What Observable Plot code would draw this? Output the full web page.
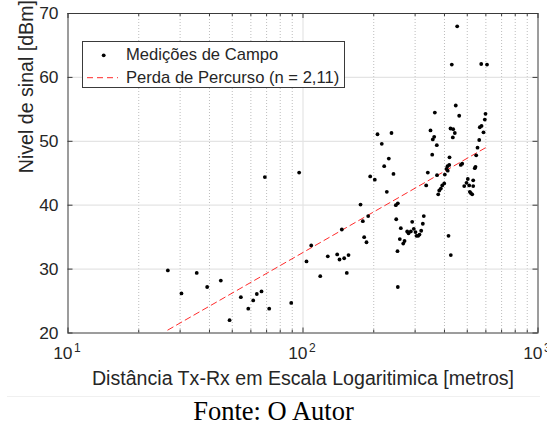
<!DOCTYPE html>
<html>
<head>
<meta charset="utf-8">
<script src="https://cdn.jsdelivr.net/npm/d3@7"></script>
<script src="https://cdn.jsdelivr.net/npm/@observablehq/plot@0.6"></script>
<style>
  body { margin: 0; background: #fff; }
  #wrap { position: relative; width: 547px; height: 426px; font-family: "Liberation Sans", Arial, sans-serif; color: #262626; }
  #legend { position: absolute; left: 82px; top: 41px; width: 261px; height: 45px; border: 1px solid #3a3a3a; background: #fff; box-sizing: content-box; }
  #legend .row { position: absolute; left: 0; height: 22px; line-height: 22px; font-size: 16.6px; white-space: nowrap; }
  #legend .row span { position: absolute; left: 43px; }
  #legend svg { position: absolute; left: 0; top: 0; }
  #caption { position: absolute; left: 7px; right: 7px; top: 396px; height: 30px; line-height: 29px; text-align: center; font-family: "Liberation Serif", "Times New Roman", serif; font-size: 26.5px; color: #000; border-top: 1px solid #f0f0f0; }
</style>
</head>
<body>
<div id="wrap"></div>
<script>
// Field measurements: Tx-Rx distance (m) and received signal level (dBm)
const distance = [
  26.6, 30.4, 35.3, 39.1, 44.7, 48.7, 54.4, 58.5, 61.4, 63.6, 66.6, 71.8, 89.1, 103.5, 68.8, 96.3,
  429.7, 573.3, 606.7, 453.0, 446.8, 363.9, 462.0, 597.9, 593.8, 575.0, 565.4, 586.3, 562.2, 552.9,
  545.8, 542.0, 538.3, 530.0, 530.0, 502.7, 496.3, 485.3, 509.6, 512.6, 517.6, 524.8, 424.3, 435.6,
  442.6, 434.0, 348.8, 356.7, 361.6, 371.0, 354.7, 420.2, 412.1, 408.0, 413.0, 419.0, 469.3, 475.8,
  339.7, 401.3, 371.8, 334.4, 399.0, 391.3, 386.0, 380.0, 376.2, 207.5, 238.0, 216.4, 231.8, 221.6,
  242.7, 193.2, 202.1, 227.3, 175.7, 179.7, 189.4, 182.1, 186.3, 146.3, 108.4, 127.5, 139.8, 143.0,
  149.7, 156.2, 118.4, 153.6, 248.3, 253.2, 249.3, 260.8, 252.4, 258.2, 270.4, 267.0, 253.2, 277.6,
  281.2, 287.6, 291.5, 296.1, 301.1, 304.0, 309.1, 313.1, 318.4, 323.5, 326.6, 416.1, 425.6
];
const level = [
  29.8, 26.2, 29.4, 27.2, 28.2, 22.0, 25.6, 23.8, 25.1, 26.1, 26.5, 23.8, 24.7, 31.2, 44.4, 45.1,
  62.0, 62.1, 62.0, 68.0, 55.6, 54.5, 54.0, 54.3, 53.4, 52.4, 52.2, 51.4, 50.2, 49.0,
  47.8, 46.0, 45.8, 43.9, 43.0, 44.1, 43.5, 43.0, 43.1, 42.1, 41.9, 41.7, 52.0, 51.9,
  51.3, 50.6, 51.7, 50.3, 50.7, 49.4, 47.9, 47.5, 46.1, 45.7, 45.4, 46.3, 46.3, 46.5,
  45.1, 44.8, 44.7, 43.1, 43.4, 43.1, 42.6, 42.3, 41.7, 51.1, 51.3, 49.6, 47.3, 46.1,
  44.9, 44.5, 44.0, 42.1, 40.1, 37.5, 38.3, 35.0, 34.2, 36.2, 33.7, 32.0, 32.3, 31.5,
  31.7, 32.2, 28.9, 29.4, 40.0, 40.3, 37.8, 36.4, 32.8, 34.7, 34.4, 34.0, 27.2, 35.9,
  35.6, 35.9, 37.4, 36.3, 35.8, 35.2, 35.2, 35.4, 36.0, 37.1, 38.3, 35.2, 32.2
];

// Log-distance path loss model: P(d) = P(d0) + 10 n log10(d / d0)
const pathLossN = 2.11;
const refDistance = 100;   // m
const refLevel = 32.6;     // dBm at refDistance

// Axis ticks
const xExponents = [1, 2, 3];
const xMinor = [20, 30, 40, 50, 60, 70, 80, 90, 200, 300, 400, 500, 600, 700, 800, 900];
const yTicks = [20, 30, 40, 50, 60, 70];

const xMajor = xExponents.map(e => 10 ** e);
const points = distance.map((d, i) => ({d, v: level[i]}));
const fitDist = d3.extent(distance);
const fit = fitDist.map(d => ({d, v: refLevel + 10 * pathLossN * Math.log10(d / refDistance)}));

const W = 547, H = 396;
const mL = 67.5, mR = 9.5, mT = 13, mB = 63.5;
const plotW = W - mL - mR, plotH = H - mT - mB;
const axisColor = "#3a3a3a";
const gridColor = "#e4e4e4";
const tickFont = 17.4;
const labelFont = 19.6;

const chart = Plot.plot({
  width: W, height: H,
  marginLeft: mL, marginRight: mR, marginTop: mT, marginBottom: mB,
  style: {fontFamily: "'Liberation Sans', Arial, sans-serif", color: "#262626", background: "#fff", overflow: "visible"},
  x: {type: "log", domain: [10, 1000], axis: null},
  y: {domain: [20, 70], axis: null},
  marks: [
    // grid
    Plot.ruleX(xMinor, {x: d => d, stroke: "#bdbdbd", strokeDasharray: "1,2", strokeWidth: 1}),
    Plot.ruleX([100], {x: d => d, stroke: gridColor, strokeWidth: 1.2}),
    Plot.ruleY(yTicks.slice(1, -1), {y: d => d, stroke: gridColor, strokeWidth: 1.2}),
    // data
    Plot.line(fit, {x: "d", y: "v", stroke: "#ff2b2b", strokeWidth: 1, strokeDasharray: "6,4"}),
    Plot.dot(points, {x: "d", y: "v", r: 1.9, fill: "#000", stroke: "none"}),
    // box and inward ticks
    Plot.frame({stroke: axisColor, strokeWidth: 1}),
    Plot.tickX(xMajor, {x: d => d, insetTop: plotH - 5, stroke: axisColor}),
    Plot.tickX(xMajor, {x: d => d, insetBottom: plotH - 5, stroke: axisColor}),
    Plot.tickX(xMinor, {x: d => d, insetTop: plotH - 3, stroke: axisColor}),
    Plot.tickX(xMinor, {x: d => d, insetBottom: plotH - 3, stroke: axisColor}),
    Plot.tickY(yTicks, {y: d => d, insetRight: plotW - 5, stroke: axisColor}),
    Plot.tickY(yTicks, {y: d => d, insetLeft: plotW - 5, stroke: axisColor}),
    // tick labels
    Plot.text(yTicks, {y: d => d, frameAnchor: "left", text: d => String(d), textAnchor: "end", dx: -9.5, fontSize: tickFont, fill: "#262626"}),
    Plot.text(xMajor, {x: d => d, frameAnchor: "bottom", text: () => "10", textAnchor: "end", dx: 4.5, dy: 26, fontSize: tickFont, fill: "#262626"}),
    Plot.text(xExponents, {x: d => 10 ** d, frameAnchor: "bottom", text: d => String(d), textAnchor: "start", dx: 6, dy: 18.5, fontSize: 12, fill: "#262626"}),
    // axis titles
    Plot.text(["Distância Tx-Rx em Escala Logaritimica [metros]"], {frameAnchor: "bottom", text: d => d, dy: 52, fontSize: labelFont, fill: "#262626"}),
    Plot.text(["Nivel de sinal [dBm]"], {frameAnchor: "left", text: d => d, rotate: -90, dx: -41, fontSize: labelFont, fill: "#262626"})
  ]
});

const wrap = document.getElementById("wrap");
wrap.appendChild(chart);

// legend box
const legend = document.createElement("div");
legend.id = "legend";
legend.innerHTML = `
  <svg width="261" height="45">
    <circle cx="20.7" cy="13.3" r="1.9" fill="#000"/>
    <line x1="4" x2="35" y1="35.7" y2="35.7" stroke="#ff2b2b" stroke-width="1" stroke-dasharray="6,4"/>
  </svg>
  <div class="row" style="top:2.3px"><span>Medições de Campo</span></div>
  <div class="row" style="top:24.7px"><span>Perda de Percurso (n = ${String(pathLossN).replace(".", ",")})</span></div>`;
wrap.appendChild(legend);

const caption = document.createElement("div");
caption.id = "caption";
caption.textContent = "Fonte: O Autor";
wrap.appendChild(caption);
</script>
</body>
</html>
